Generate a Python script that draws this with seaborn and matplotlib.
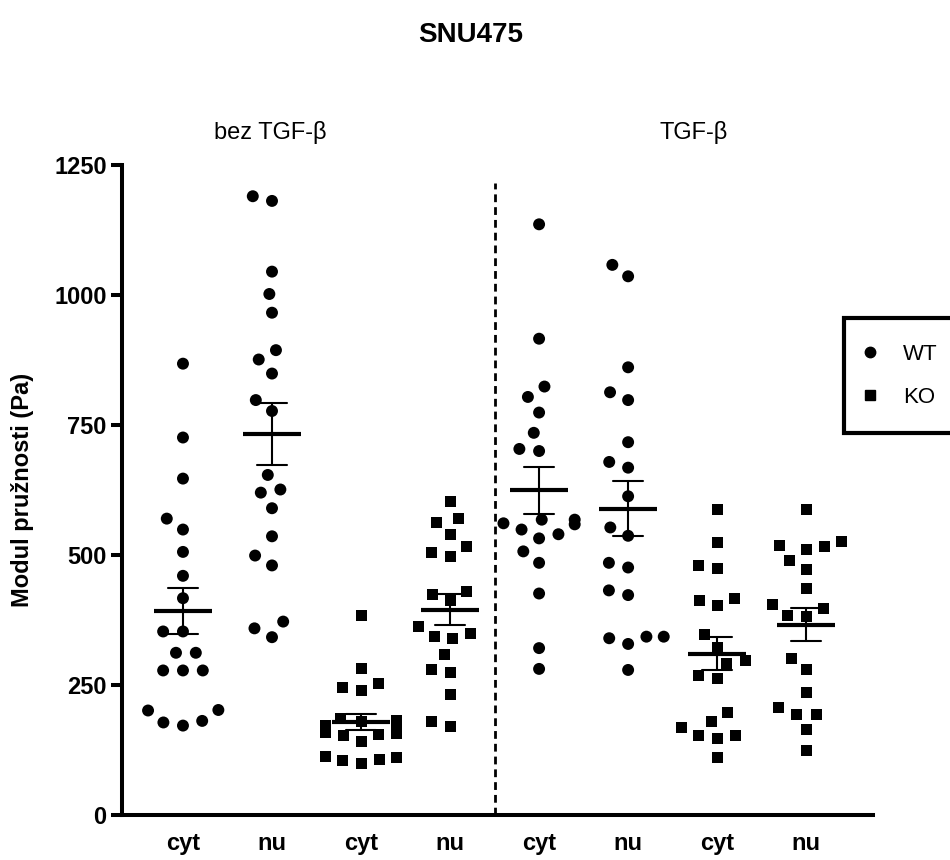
import pandas as pd
import matplotlib
matplotlib.use("Agg")
import matplotlib.pyplot as plt
from matplotlib.lines import Line2D
import seaborn as sns

# values (Pa), 20 cells per group
cyt_wt_bez = [868, 726, 647, 570, 549, 506, 460, 417, 353, 353,
              312, 312, 278, 278, 278, 201, 202, 181, 172, 178]
nu_wt_bez = [1181, 1190, 1045, 1002, 966, 894, 876, 849, 798, 777,
             654, 620, 626, 590, 536, 499, 480, 372, 359, 342]
cyt_ko_bez = [383, 282, 253, 239, 245, 186, 181, 179, 173, 163,
              158, 157, 152, 154, 141, 104, 112, 107, 110, 100]
nu_ko_bez = [603, 570, 562, 539, 516, 504, 498, 429, 424, 413,
             362, 349, 343, 339, 308, 279, 275, 232, 171, 179]
cyt_wt_tgf = [1136, 916, 824, 804, 774, 735, 700, 704, 568, 568,
              559, 561, 549, 540, 532, 507, 485, 426, 321, 281]
nu_wt_tgf = [1058, 1036, 861, 813, 798, 717, 679, 668, 613, 553,
             537, 485, 476, 432, 423, 343, 340, 329, 343, 279]
cyt_ko_tgf = [588, 524, 479, 474, 417, 403, 413, 348, 322, 292,
              297, 268, 262, 198, 180, 169, 153, 153, 147, 110]
nu_ko_tgf = [588, 517, 511, 518, 526, 489, 473, 435, 404, 397,
             382, 384, 301, 279, 235, 206, 194, 194, 165, 125]

groups = ["cyt WT bez", "nu WT bez", "cyt KO bez", "nu KO bez",
          "cyt WT TGF", "nu WT TGF", "cyt KO TGF", "nu KO TGF"]
genotypes = ["WT", "WT", "KO", "KO", "WT", "WT", "KO", "KO"]
tick_labels = ["cyt", "nu", "cyt", "nu", "cyt", "nu", "cyt", "nu"]
series = [cyt_wt_bez, nu_wt_bez, cyt_ko_bez, nu_ko_bez,
          cyt_wt_tgf, nu_wt_tgf, cyt_ko_tgf, nu_ko_tgf]

rows = []
for g, gt, vals in zip(groups, genotypes, series):
    for v in vals:
        rows.append({"group": g, "genotype": gt, "value": v})
df = pd.DataFrame(rows)

sns.set_theme(style="ticks")
plt.rcParams["font.family"] = ["Liberation Sans", "DejaVu Sans"]
plt.rcParams["text.color"] = "black"
plt.rcParams["axes.labelcolor"] = "black"
plt.rcParams["xtick.color"] = "black"
plt.rcParams["ytick.color"] = "black"

fig = plt.figure(figsize=(9.5, 8.6), dpi=100)
ax = fig.add_axes([0.1284, 0.0523, 0.7905, 0.7558])

# linewidth with no edge colour only widens the swarm spacing
sns.swarmplot(data=df[df.genotype == "WT"], x="group", y="value", order=groups,
              marker="o", size=8.6, color="black", linewidth=5, edgecolor="none", ax=ax)
sns.swarmplot(data=df[df.genotype == "KO"], x="group", y="value", order=groups,
              marker="s", size=7.9, color="black", linewidth=5, edgecolor="none", ax=ax)

# mean +/- SEM
sns.pointplot(data=df, x="group", y="value", order=groups, errorbar="se",
              capsize=0.33, markers="_", linestyles="none", color="black",
              markersize=42, markeredgewidth=3, zorder=6,
              err_kws={"linewidth": 1.5, "zorder": 6}, ax=ax)

ax.axvline(3.5, ymin=0, ymax=0.972, color="black", linewidth=2, dashes=(2.8, 1.8))

ax.set_ylim(0, 1250)
ax.set_xlim(-0.685, 7.75)
ax.set_yticks([0, 250, 500, 750, 1000, 1250])
ax.set_xticks(range(len(groups)), labels=tick_labels)
ax.set_xlabel("")
ax.set_ylabel("Modul pružnosti (Pa)", fontsize=17, fontweight="bold")
ax.yaxis.set_label_coords(-0.117, 0.5)

for side in ["top", "right"]:
    ax.spines[side].set_visible(False)
for side in ["left", "bottom"]:
    ax.spines[side].set_linewidth(2.9)
    ax.spines[side].set_color("black")

ax.tick_params(axis="y", length=8, width=2.9, pad=3, labelsize=17)
ax.tick_params(axis="x", length=0, pad=12, labelsize=17)
for lab in ax.get_xticklabels() + ax.get_yticklabels():
    lab.set_fontweight("bold")

fig.text(0.495, 1 - 35 / 860, "SNU475", ha="center", va="center",
         fontsize=20, fontweight="bold")
fig.text(270 / 950, 1 - 132 / 860, "bez TGF-β", ha="center", va="center", fontsize=17)
fig.text(694 / 950, 1 - 132 / 860, "TGF-β", ha="center", va="center", fontsize=17)

handles = [Line2D([], [], marker="o", color="black", linestyle="none", markersize=7.5),
           Line2D([], [], marker="s", color="black", linestyle="none", markersize=7)]
leg = fig.legend(handles, ["WT", "KO"], loc="upper left",
                 bbox_to_anchor=(833 / 950, 1 - 307 / 860, 0.2, 0), mode="expand",
                 fontsize=16, frameon=True, fancybox=False, framealpha=1,
                 edgecolor="black", borderpad=1.15, handlelength=0,
                 handletextpad=1.5, labelspacing=1.0)
leg.get_frame().set_linewidth(3)

fig.savefig("out.png", dpi=100)
